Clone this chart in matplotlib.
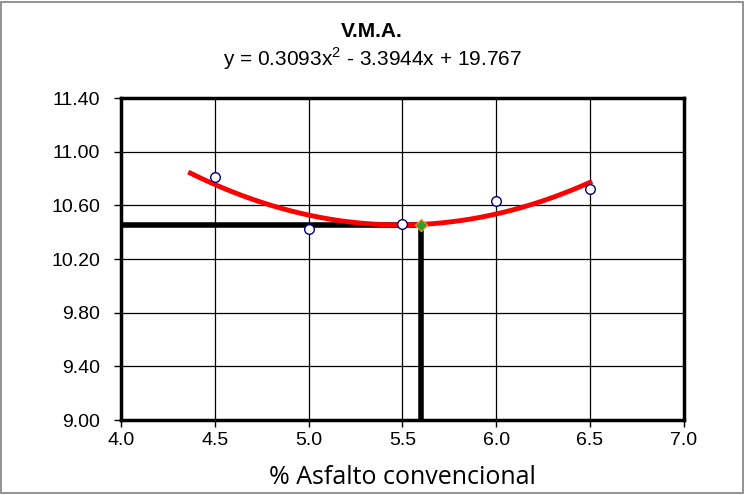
import matplotlib.pyplot as plt
import numpy as np
from matplotlib.patches import Rectangle

# datos V.M.A.
asfalto = [4.5, 5.0, 5.5, 6.0, 6.5]
vma = [10.81, 10.42, 10.46, 10.63, 10.72]
coef = [0.3093, -3.3944, 19.767]
curva_x = [4.37, 6.5]
optimo_x = 5.6
optimo_y = 10.45
xticks = [4.0, 4.5, 5.0, 5.5, 6.0, 6.5, 7.0]
yticks = [9.00, 9.40, 9.80, 10.20, 10.60, 11.00, 11.40]

plt.rcParams['font.family'] = ['Liberation Sans', 'DejaVu Sans']
plt.rcParams['mathtext.fontset'] = 'custom'
plt.rcParams['mathtext.rm'] = 'Liberation Sans'

fig = plt.figure(figsize=(7.44, 4.95), dpi=100)
ax = fig.add_axes([0.1626, 0.1515, 0.7564, 0.6505])

# marco de la figura
fig.patches.append(Rectangle((0.002, 0.004), 0.996, 0.992, transform=fig.transFigure,
                             fill=False, edgecolor='#808080', linewidth=1.2, zorder=10))

# curva de ajuste
xs = np.linspace(curva_x[0], curva_x[1], 200)
ax.plot(xs, np.polyval(coef, xs), color='red', linewidth=3.5, zorder=4)

# lineas del optimo
ax.plot([xticks[0], optimo_x], [optimo_y, optimo_y], color='black', linewidth=4, zorder=3,
        solid_capstyle='butt')
ax.plot([optimo_x, optimo_x], [yticks[0], optimo_y], color='black', linewidth=4, zorder=3,
        solid_capstyle='butt')

ax.scatter(asfalto, vma, s=48, facecolors='white', edgecolors='#000080', linewidths=1, zorder=5)
ax.scatter([optimo_x], [optimo_y], s=40, marker='D', color='#2ca02c', edgecolors='#ff9933',
           linewidths=0.8, zorder=6)

ax.set_xlim(xticks[0], xticks[-1])
ax.set_ylim(yticks[0], yticks[-1])
ax.set_xticks(xticks)
ax.set_yticks(yticks)
ax.set_xticklabels([f'{t:.1f}' for t in xticks])
ax.set_yticklabels([f'{t:.2f}' for t in yticks])
ax.tick_params(labelsize=14, direction='out', length=5, width=1)
ax.tick_params(axis='y', pad=10)
ax.grid(True, color='black', linewidth=0.9)
for sp in ax.spines.values():
    sp.set_linewidth(2.5)

fig.text(0.5, 0.937, 'V.M.A.', ha='center', va='center', fontsize=15, fontweight='bold')
fig.text(0.5, 0.882, 'y = 0.3093x$^\\mathregular{2}$ - 3.3944x + 19.767', ha='center',
         va='center', fontsize=15)
ax.set_xlabel('% Asfalto convencional', fontsize=18, family=['Open Sans', 'DejaVu Sans'],
              labelpad=12)

fig.savefig('out.png', dpi=100)
